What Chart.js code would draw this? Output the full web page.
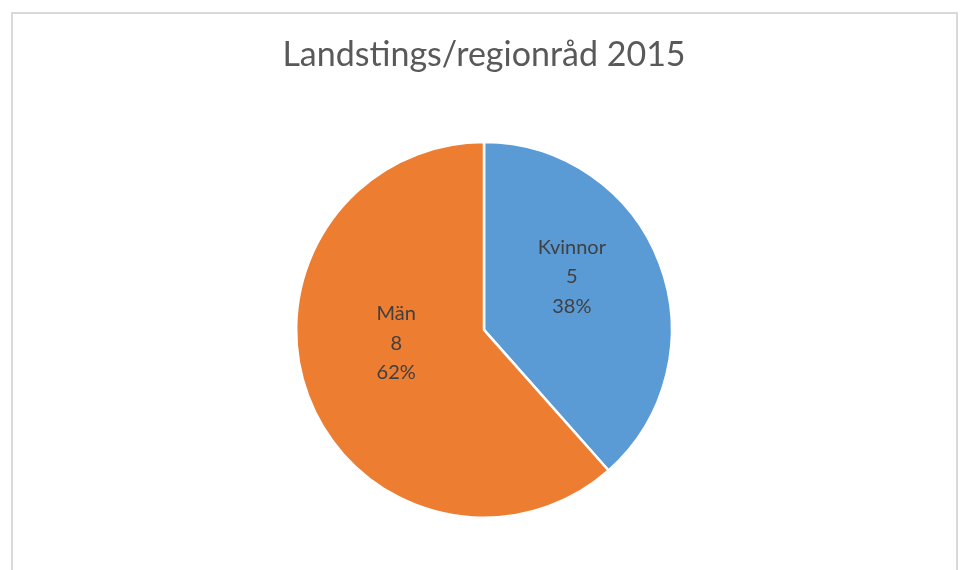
<!DOCTYPE html>
<html>
<head>
<meta charset="utf-8">
<script src="https://cdn.jsdelivr.net/npm/chart.js@4.4.1/dist/chart.umd.min.js"></script>
<style>
  html, body { margin: 0; padding: 0; background: #fff; }
  #frame { position: absolute; left: 11px; top: 12px; width: 943px; height: 600px; border: 2px solid #d9d9d9; }
  #wrap { position: absolute; left: 0; top: 0; width: 962px; height: 570px; }
</style>
</head>
<body>
<div id="frame"></div>
<div id="wrap"><canvas id="pieChart" width="962" height="570"></canvas></div>
<script>
var categories = ['Kvinnor', 'Män'];
var values = [5, 8];
var colors = ['#5B9BD5', '#ED7D31'];
var chartTitle = 'Landstings/regionråd 2015';

// labels inside the slices: name, value, percent
var sliceLabels = {
    id: 'sliceLabels',
    afterDatasetsDraw: function(chart) {
        var ctx = chart.ctx;
        var meta = chart.getDatasetMeta(0);
        var total = values.reduce(function(a, b) { return a + b; }, 0);
        ctx.save();
        ctx.font = '20px Lato';
        ctx.fillStyle = '#404040';
        ctx.textAlign = 'center';
        ctx.textBaseline = 'middle';
        meta.data.forEach(function(arc, i) {
            var p = arc.getProps(['x', 'y', 'startAngle', 'endAngle', 'outerRadius'], true);
            var mid = (p.startAngle + p.endAngle) / 2;
            var r = p.outerRadius * 0.5;
            var cx = p.x + Math.cos(mid) * r;
            var cy = p.y + Math.sin(mid) * r - 20;
            var pct = Math.round(values[i] / total * 100) + '%';
            var lines = [categories[i], String(values[i]), pct];
            lines.forEach(function(t, j) {
                ctx.fillText(t, cx, cy + (j - 1) * 29.5);
            });
        });
        ctx.restore();
    }
};

new Chart(document.getElementById('pieChart'), {
    type: 'pie',
    data: {
        labels: categories,
        datasets: [{
            data: values,
            backgroundColor: colors,
            borderColor: '#ffffff',
            borderWidth: 2.5
        }]
    },
    options: {
        responsive: false,
        animation: false,
        layout: { padding: { left: 6, right: 0, top: 0, bottom: 51 } },
        plugins: {
            legend: { display: false },
            tooltip: { enabled: false },
            title: {
                display: true,
                text: chartTitle,
                color: '#595959',
                font: { family: 'Lato', size: 34, weight: 'normal' },
                padding: { top: 35, bottom: 65 }
            }
        }
    },
    plugins: [sliceLabels]
});
</script>
</body>
</html>
